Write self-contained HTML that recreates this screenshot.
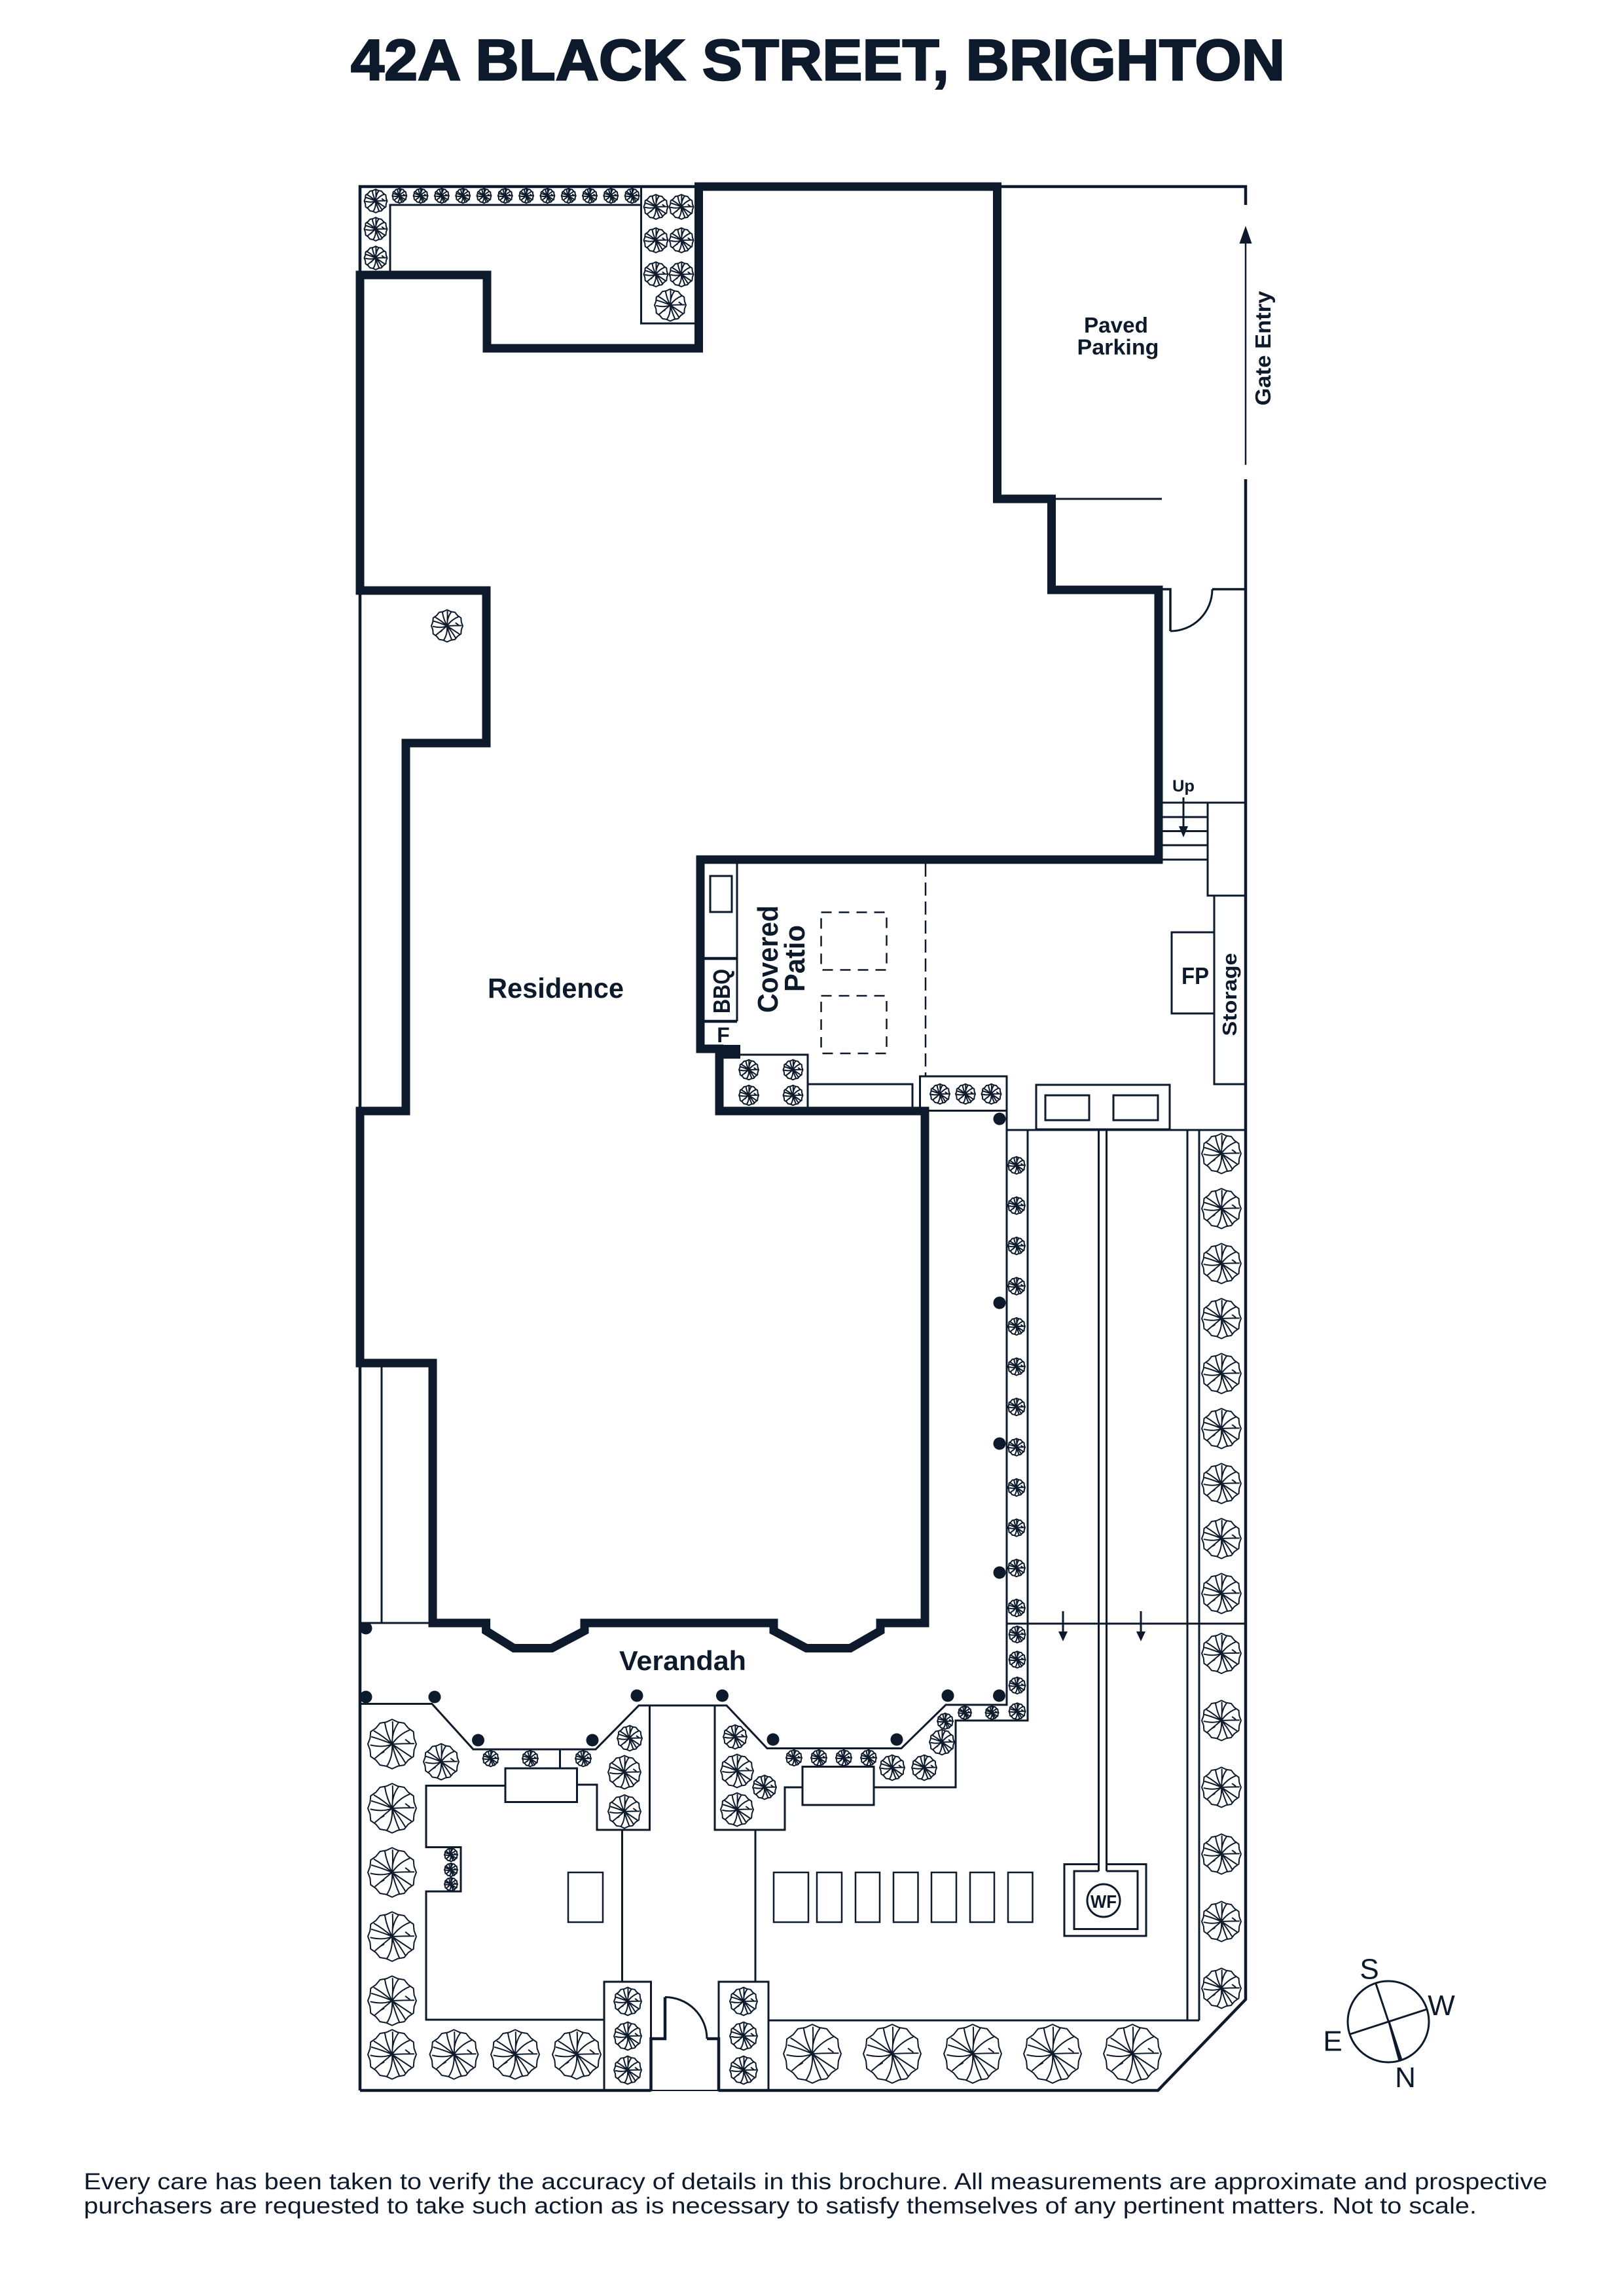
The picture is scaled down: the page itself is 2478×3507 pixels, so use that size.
<!DOCTYPE html>
<html><head><meta charset="utf-8"><title>42A Black Street, Brighton</title>
<style>
html,body{margin:0;padding:0;background:#fff}
svg{display:block}
text{font-family:"Liberation Sans",sans-serif;fill:#0d1a2b}
.b{font-weight:700}
.l{fill:none;stroke:#0d1a2b;stroke-width:3}
.s{fill:none;stroke:#0d1a2b;stroke-width:4.5}
.d{fill:#0d1a2b;stroke:none}
.tree *{vector-effect:non-scaling-stroke;stroke:#0d1a2b;stroke-width:2;stroke-linejoin:round;stroke-linecap:round}
</style></head><body>
<svg xmlns="http://www.w3.org/2000/svg" width="2478" height="3507" viewBox="0 0 2478 3507">
<defs>
<g id="t" class="tree">
<polygon fill="#fff" points="50,0 45.4,12.2 44.2,25.5 33.2,33.2 25,43.3 12.2,45.4 0,51 -12.2,45.4 -25,43.3 -33.2,33.2 -44.2,25.5 -45.4,12.2 -50,0 -45.4,-12.2 -44.2,-25.5 -33.2,-33.2 -25,-43.3 -12.2,-45.4 0,-51 12.2,-45.4 25,-43.3 33.2,-33.2 44.2,-25.5 45.4,-12.2"/>
<path fill="none" d="M0 0Q-11 -20 -15 -44M0 0Q2 -22 1 -46M1 -15Q4 -32 13 -44M0 0Q14 -20 36 -29M0 0Q22 -1 45 -1M36 -3L28 -9M0 0L39 26M0 0Q14 16 27 38M0 0Q6 24 15 44M0 0Q2 26 -11 46M0 0L-35 29M-24 20L-17 16M0 0Q-18 8 -44 2M0 0Q-18 -8 -42 -15M0 0Q-18 -16 -37 -27"/>
</g>
</defs>
<rect width="2478" height="3507" fill="#fff"/>

<text class="b" x="536" y="122" font-size="88" textLength="1427" lengthAdjust="spacingAndGlyphs" stroke="#0d1a2b" stroke-width="2.5">42A BLACK STREET, BRIGHTON</text>

<!-- site boundary -->
<path class="s" d="M550 3193V285H1067M1524 285H1903V313M1903 732V3054L1769 3193H1098M994 3193H550"/>
<path class="l" d="M994 3193H1098" style="stroke-width:2"/>
<path class="l" d="M1903 372V710" style="stroke-width:2.5"/>
<polygon class="d" points="1903,345 1912.5,372 1893.5,372"/>

<!-- top planter -->
<path class="l" d="M596 420V313H979.5M979.5 285V494H1067"/>
<!-- parking -->
<path class="l" d="M1612 762H1775"/>
<!-- side door -->
<path class="s" d="M1776 900H1788V964" style="stroke-width:3.5"/>
<path class="l" d="M1788 964A64 64 0 0 0 1852 900"/>
<path class="s" d="M1852 900H1903" style="stroke-width:3.5"/>
<!-- stairs -->
<path class="l" d="M1770 1226H1904M1770 1248H1845M1770 1269.5H1845M1770 1291H1845M1770 1313H1845M1845 1226V1368H1904M1855 1368V1656H1904M1855 1424H1790V1548H1855"/>
<path class="l" d="M1808 1218V1262"/>
<polygon class="d" points="1808,1279 1801,1262 1815,1262"/>
<!-- counter -->
<path class="l" d="M1126 1313V1560"/>
<rect class="l" x="1085" y="1338" width="33" height="55"/>
<path class="s" d="M1076 1464H1126M1076 1560H1126"/>
<!-- dashed -->
<rect x="1254.5" y="1393.5" width="100" height="88" fill="none" stroke="#0d1a2b" stroke-width="2.5" stroke-dasharray="16 11"/>
<rect x="1254.5" y="1521" width="100" height="88" fill="none" stroke="#0d1a2b" stroke-width="2.5" stroke-dasharray="16 11"/>
<path d="M1414 1319V1644" fill="none" stroke="#0d1a2b" stroke-width="2.5" stroke-dasharray="20 9"/>
<!-- small planters -->
<path class="l" d="M1099 1611H1234V1697M1234 1656H1394V1697"/>
<rect class="l" x="1405.5" y="1644" width="132.5" height="52.5"/>
<!-- BBQ area boxes -->
<rect class="l" x="1583" y="1657" width="204" height="68"/>
<rect class="l" x="1597" y="1673" width="67" height="38"/>
<rect class="l" x="1701" y="1673" width="68" height="38"/>
<!-- side path -->
<path class="l" d="M1538 1696V2604H1445L1377 2670.5H1172L1110 2605H976L910 2672H723L660 2602.5H550"/>
<path class="l" d="M1538 1726H1904M1570 1726V2628H1460V2730H1335M1226 2730H1199V2795H1092V2605M1154 2795V3027M1538 2480H1904"/>
<path class="l" d="M1678.5 1726V2858M1690.5 1726V2858M1814 1726V3086M1832 1726V3086M1174 3086H1832"/>
<rect class="l" x="1226" y="2698.5" width="109" height="58.5"/>
<!-- arrows -->
<path class="l" d="M1624 2461V2494M1743 2461V2494"/>
<polygon class="d" points="1624,2507 1617,2492 1631,2492"/>
<polygon class="d" points="1743,2507 1736,2492 1750,2492"/>
<!-- WF -->
<path class="l" d="M1678.5 2847.5H1626V2957H1751V2847.5H1690.5M1678.5 2858H1641V2946.5H1738V2858H1690.5"/>
<circle class="l" cx="1686" cy="2903" r="25"/>
<text class="b" x="1686" y="2914" font-size="28" text-anchor="middle" textLength="40" lengthAdjust="spacingAndGlyphs">WF</text>
<!-- pavers -->
<g class="l" style="stroke-width:2.5">
<rect x="1182" y="2860" width="53" height="76"/><rect x="1248" y="2860" width="38" height="76"/><rect x="1307" y="2860" width="37" height="76"/><rect x="1365" y="2860" width="37.5" height="76"/><rect x="1423" y="2860" width="38" height="76"/><rect x="1482" y="2860" width="37" height="76"/><rect x="1540" y="2860" width="37.5" height="76"/>
<rect x="868" y="2860" width="53" height="76"/>
</g>
<!-- left garden -->
<path class="l" d="M923 3085H651V2889H704V2821.5H651V2727.5H772M881.5 2726H912V2795H992.5V2605M855.5 2672V2701M950.5 2795V3027"/>
<rect class="l" x="772" y="2701" width="109.5" height="51.5"/>
<rect class="l" x="923" y="3027" width="71.5" height="166"/>
<rect class="l" x="1098" y="3027" width="76" height="166"/>
<!-- gate -->
<path class="s" d="M994.5 3193V3114H1016V3050.5"/>
<path class="l" d="M1016 3050.5A64 64 0 0 1 1080 3114"/>
<path class="s" d="M1080 3114H1098V3193"/>
<!-- lower-left -->
<path class="l" d="M550 2479H661M583 2082V2479"/>

<!-- walls -->
<path d="M1067.5 532V285H1523.5V762H1606.5V901H1770V1313H1070V1602H1099V1697H1413V2479H1345V2491L1299 2517.5H1232L1182 2491V2479H893V2491L843 2517.5H785L742.6 2491V2479H661V2082H550V1697H620V1135H743V902H550V420H744V532Z" fill="none" stroke="#0d1a2b" stroke-width="13" stroke-linejoin="miter"/>
<rect class="d" x="1095" y="1596" width="36" height="21"/>

<!-- posts -->
<g class="d">
<circle cx="1527" cy="1709" r="9.5"/><circle cx="1527" cy="1990" r="9.5"/><circle cx="1527" cy="2205" r="9.5"/><circle cx="1527" cy="2402" r="9.5"/>
<circle cx="559" cy="2487" r="9.5"/><circle cx="559" cy="2592" r="9.5"/><circle cx="664" cy="2592" r="9.5"/><circle cx="730.5" cy="2658" r="9.5"/><circle cx="905" cy="2658" r="9.5"/><circle cx="973" cy="2590" r="9.5"/><circle cx="1103.5" cy="2590" r="9.5"/><circle cx="1181" cy="2657" r="9.5"/><circle cx="1370" cy="2657" r="9.5"/><circle cx="1448" cy="2590" r="9.5"/><circle cx="1526.5" cy="2590" r="9.5"/>
</g>

<!-- trees: top row -->
<use href="#t" transform="translate(610.3 299) scale(.22)"/><use href="#t" transform="translate(642.6 299) scale(.22)"/><use href="#t" transform="translate(674.9 299) scale(.22)"/><use href="#t" transform="translate(707.2 299) scale(.22)"/><use href="#t" transform="translate(739.5 299) scale(.22)"/><use href="#t" transform="translate(771.8 299) scale(.22)"/><use href="#t" transform="translate(804.1 299) scale(.22)"/><use href="#t" transform="translate(836.4 299) scale(.22)"/><use href="#t" transform="translate(868.7 299) scale(.22)"/><use href="#t" transform="translate(901 299) scale(.22)"/><use href="#t" transform="translate(933.3 299) scale(.22)"/><use href="#t" transform="translate(965.6 299) scale(.22)"/>
<use href="#t" transform="translate(574 307) scale(.35)"/><use href="#t" transform="translate(574 350) scale(.35)"/><use href="#t" transform="translate(574 394) scale(.35)"/>
<use href="#t" transform="translate(1002 316) scale(.37)"/><use href="#t" transform="translate(1041 316) scale(.37)"/><use href="#t" transform="translate(1002 367) scale(.37)"/><use href="#t" transform="translate(1041 367) scale(.37)"/><use href="#t" transform="translate(1002 419) scale(.37)"/><use href="#t" transform="translate(1041 419) scale(.37)"/>
<use href="#t" transform="translate(1024 466) scale(.48)"/>
<use href="#t" transform="translate(683 956) scale(.48)"/>
<!-- patio planters -->
<use href="#t" transform="translate(1144 1634) scale(.3)"/><use href="#t" transform="translate(1211.5 1634) scale(.3)"/><use href="#t" transform="translate(1144 1673) scale(.3)"/><use href="#t" transform="translate(1211.5 1673) scale(.3)"/>
<use href="#t" transform="translate(1436 1671) scale(.3)"/><use href="#t" transform="translate(1475 1671) scale(.3)"/><use href="#t" transform="translate(1514.5 1671) scale(.3)"/>
<!-- side column -->
<use href="#t" transform="translate(1553 1780) scale(.26)"/><use href="#t" transform="translate(1553 1841.5) scale(.26)"/><use href="#t" transform="translate(1553 1903) scale(.26)"/><use href="#t" transform="translate(1553 1964.5) scale(.26)"/><use href="#t" transform="translate(1553 2026) scale(.26)"/><use href="#t" transform="translate(1553 2087.5) scale(.26)"/><use href="#t" transform="translate(1553 2149) scale(.26)"/><use href="#t" transform="translate(1553 2210.5) scale(.26)"/><use href="#t" transform="translate(1553 2272) scale(.26)"/><use href="#t" transform="translate(1553 2333.5) scale(.26)"/><use href="#t" transform="translate(1553 2395) scale(.26)"/><use href="#t" transform="translate(1553 2456) scale(.26)"/>
<use href="#t" transform="translate(1554 2496.5) scale(.25)"/><use href="#t" transform="translate(1554 2535) scale(.25)"/><use href="#t" transform="translate(1554 2574.5) scale(.25)"/><use href="#t" transform="translate(1554 2614) scale(.25)"/>
<!-- right column -->
<use href="#t" transform="translate(1866 1762) scale(.6)"/><use href="#t" transform="translate(1866 1846) scale(.6)"/><use href="#t" transform="translate(1866 1930) scale(.6)"/><use href="#t" transform="translate(1866 2014) scale(.6)"/><use href="#t" transform="translate(1866 2098) scale(.6)"/><use href="#t" transform="translate(1866 2182) scale(.6)"/><use href="#t" transform="translate(1866 2266) scale(.6)"/><use href="#t" transform="translate(1866 2350) scale(.6)"/><use href="#t" transform="translate(1866 2434) scale(.6)"/>
<use href="#t" transform="translate(1866 2525.5) scale(.6)"/><use href="#t" transform="translate(1866 2628) scale(.6)"/><use href="#t" transform="translate(1866 2730) scale(.6)"/><use href="#t" transform="translate(1866 2832) scale(.6)"/><use href="#t" transform="translate(1866 2935) scale(.6)"/><use href="#t" transform="translate(1866 3037) scale(.6)"/>
<!-- left column and bottom row -->
<use href="#t" transform="translate(599 2664) scale(.74)"/><use href="#t" transform="translate(599 2762) scale(.74)"/><use href="#t" transform="translate(599 2860) scale(.74)"/><use href="#t" transform="translate(599 2958) scale(.74)"/><use href="#t" transform="translate(599 3056) scale(.74)"/><use href="#t" transform="translate(599 3138) scale(.74)"/>
<use href="#t" transform="translate(693.5 3138) scale(.74)"/><use href="#t" transform="translate(787 3138) scale(.74)"/><use href="#t" transform="translate(881 3138) scale(.74)"/>
<use href="#t" transform="translate(1241 3137) scale(.88)"/><use href="#t" transform="translate(1363 3137) scale(.88)"/><use href="#t" transform="translate(1486 3137) scale(.88)"/><use href="#t" transform="translate(1608 3137) scale(.88)"/><use href="#t" transform="translate(1730 3137) scale(.88)"/>
<use href="#t" transform="translate(959 3057) scale(.42)"/><use href="#t" transform="translate(959 3110) scale(.42)"/><use href="#t" transform="translate(959 3162) scale(.42)"/>
<use href="#t" transform="translate(1136 3057) scale(.42)"/><use href="#t" transform="translate(1136 3110) scale(.42)"/><use href="#t" transform="translate(1136 3162) scale(.42)"/>
<!-- front garden -->
<use href="#t" transform="translate(674 2691) scale(.54)"/>
<use href="#t" transform="translate(749.6 2686) scale(.24)"/><use href="#t" transform="translate(810 2686) scale(.24)"/><use href="#t" transform="translate(891 2686) scale(.24)"/>
<use href="#t" transform="translate(962 2655) scale(.38)"/><use href="#t" transform="translate(954 2707) scale(.5)"/><use href="#t" transform="translate(954 2767) scale(.5)"/>
<use href="#t" transform="translate(689 2833) scale(.2)"/><use href="#t" transform="translate(689 2856) scale(.2)"/><use href="#t" transform="translate(689 2878) scale(.2)"/>
<use href="#t" transform="translate(1123 2653) scale(.36)"/><use href="#t" transform="translate(1126 2705) scale(.5)"/><use href="#t" transform="translate(1168 2730) scale(.36)"/><use href="#t" transform="translate(1126 2764) scale(.5)"/>
<use href="#t" transform="translate(1213 2685) scale(.24)"/><use href="#t" transform="translate(1251 2685) scale(.24)"/><use href="#t" transform="translate(1289 2685) scale(.24)"/><use href="#t" transform="translate(1327 2685) scale(.24)"/>
<use href="#t" transform="translate(1363 2700) scale(.38)"/><use href="#t" transform="translate(1412 2700) scale(.38)"/><use href="#t" transform="translate(1439 2661) scale(.38)"/><use href="#t" transform="translate(1444 2629) scale(.24)"/><use href="#t" transform="translate(1474 2616) scale(.2)"/><use href="#t" transform="translate(1515.5 2616) scale(.2)"/>

<!-- labels -->
<text class="b" x="1705" y="508" font-size="33" text-anchor="middle" textLength="98" lengthAdjust="spacingAndGlyphs">Paved</text>
<text class="b" x="1708" y="541.5" font-size="33" text-anchor="middle" textLength="125" lengthAdjust="spacingAndGlyphs">Parking</text>
<text class="b" transform="translate(1941 532) rotate(-90)" font-size="33" text-anchor="middle" textLength="175" lengthAdjust="spacingAndGlyphs">Gate Entry</text>
<text class="b" x="849" y="1524" font-size="43" text-anchor="middle" textLength="208" lengthAdjust="spacingAndGlyphs">Residence</text>
<text class="b" x="1043" y="2551" font-size="42" text-anchor="middle" textLength="194" lengthAdjust="spacingAndGlyphs">Verandah</text>
<text class="b" transform="translate(1188 1465) rotate(-90)" font-size="44" text-anchor="middle" textLength="164" lengthAdjust="spacingAndGlyphs">Covered</text>
<text class="b" transform="translate(1229 1464) rotate(-90)" font-size="44" text-anchor="middle" textLength="102" lengthAdjust="spacingAndGlyphs">Patio</text>
<text class="b" transform="translate(1115 1514) rotate(-90)" font-size="36" text-anchor="middle" textLength="68" lengthAdjust="spacingAndGlyphs">BBQ</text>
<text class="b" transform="translate(1889 1519) rotate(-90)" font-size="31" text-anchor="middle" textLength="127" lengthAdjust="spacingAndGlyphs">Storage</text>
<text class="b" x="1826" y="1503" font-size="36" text-anchor="middle" textLength="42" lengthAdjust="spacingAndGlyphs">FP</text>
<text class="b" x="1105" y="1592" font-size="32" text-anchor="middle">F</text>
<text class="b" x="1808" y="1209" font-size="25" text-anchor="middle" textLength="34" lengthAdjust="spacingAndGlyphs">Up</text>

<!-- compass -->
<circle cx="2121" cy="3088" r="62" fill="none" stroke="#0d1a2b" stroke-width="3"/>
<path class="l" d="M2102 3030L2121 3087M2062.7 3107L2180 3069"/>
<polygon class="d" points="2120,3087 2123,3086 2142.5,3146 2136.5,3148"/>
<text x="2092" y="3022.5" font-size="44" text-anchor="middle">S</text>
<text x="2202" y="3078" font-size="44" text-anchor="middle">W</text>
<text x="2036" y="3132.5" font-size="44" text-anchor="middle">E</text>
<text x="2147" y="3188" font-size="44" text-anchor="middle">N</text>

<!-- disclaimer -->
<text x="128" y="3344" font-size="35" textLength="2236" lengthAdjust="spacingAndGlyphs">Every care has been taken to verify the accuracy of details in this brochure. All measurements are approximate and prospective</text>
<text x="128" y="3381" font-size="35" textLength="2128" lengthAdjust="spacingAndGlyphs">purchasers are requested to take such action as is necessary to satisfy themselves of any pertinent matters. Not to scale.</text>
</svg>
</body></html>
